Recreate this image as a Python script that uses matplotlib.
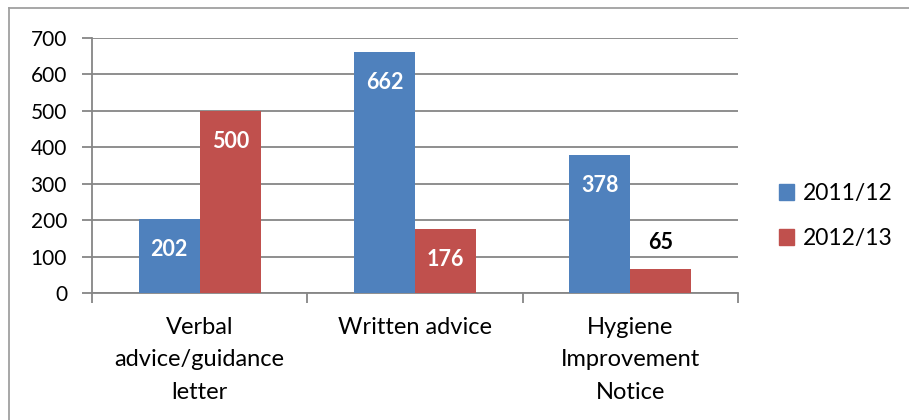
import numpy as np
import matplotlib.pyplot as plt
from matplotlib.patches import Patch
from matplotlib.lines import Line2D

categories = ['Verbal\nadvice/guidance\nletter', 'Written advice', 'Hygiene\nImprovement\nNotice']
series = ['2011/12', '2012/13']
values_2011 = [202, 662, 378]
values_2012 = [500, 176, 65]
yticks = [0, 100, 200, 300, 400, 500, 600, 700]

blue = '#4F81BD'
red = '#C0504D'
grid = '#868686'

plt.rcParams['font.family'] = ['Lato', 'DejaVu Sans']

fig = plt.figure(figsize=(9.09, 4.2), dpi=100)
ax = fig.add_axes([92 / 909, 1 - 293 / 420, (738 - 92) / 909, (293 - 38) / 420])

x = np.arange(len(categories))
w = 0.284
b1 = ax.bar(x - w / 2, values_2011, w, color=blue, label=series[0], zorder=3)
b2 = ax.bar(x + w / 2, values_2012, w, color=red, label=series[1], zorder=3)

# labels inside the top of the bar, or above it if the bar is too short
for bars, vals in [(b1, values_2011), (b2, values_2012)]:
    for bar, v in zip(bars, vals):
        cx = bar.get_x() + bar.get_width() / 2
        if v > 100:
            ax.annotate(str(v), (cx, v), xytext=(0, -22), textcoords='offset points',
                        ha='center', va='center', color='white', fontsize=15.5,
                        fontweight='bold', zorder=4)
        else:
            ax.annotate(str(v), (cx, v), xytext=(0, 19), textcoords='offset points',
                        ha='center', va='center', color='black', fontsize=15.5,
                        fontweight='bold', zorder=4)

ax.set_xlim(-0.5, 2.5)
ax.set_ylim(0, 700)
ax.set_yticks(yticks)
ax.set_yticklabels([str(t) for t in yticks], fontsize=15)
ax.yaxis.grid(True, color=grid, linewidth=1.3, zorder=0)
ax.set_axisbelow(True)

ax.set_xticks([-0.5, 0.5, 1.5, 2.5])
ax.set_xticklabels([])
ax.set_xticks(x, minor=True)
ax.set_xticklabels(categories, minor=True, fontsize=17, linespacing=1.68, va='top')
ax.tick_params(axis='x', which='minor', length=0, pad=17)
ax.tick_params(axis='x', which='major', length=7, width=1.3, color=grid, direction='out')
ax.tick_params(axis='y', length=7, width=1.3, color=grid, direction='out', pad=11)

for s in ['top', 'right']:
    ax.spines[s].set_visible(False)
for s in ['left', 'bottom']:
    ax.spines[s].set_color(grid)
    ax.spines[s].set_linewidth(1.3)

handles = [Patch(color=blue, label=series[0]), Patch(color=red, label=series[1])]
fig.legend(handles=handles, loc='center left', bbox_to_anchor=(779 / 909, 1 - 216 / 420),
           frameon=False, fontsize=16.5, handlelength=0.65, handleheight=0.65,
           handletextpad=0.4, labelspacing=1.05, borderpad=0, borderaxespad=0)

# chart border (only left and top edges visible in the picture)
fig.add_artist(Line2D([9 / 909, 9 / 909], [0, 1 - 8 / 420], transform=fig.transFigure,
                      color='#a0a0a0', linewidth=1.3))
fig.add_artist(Line2D([9 / 909, 1], [1 - 8 / 420, 1 - 8 / 420], transform=fig.transFigure,
                      color='#a0a0a0', linewidth=1.3))

fig.savefig('out.png', dpi=100)
